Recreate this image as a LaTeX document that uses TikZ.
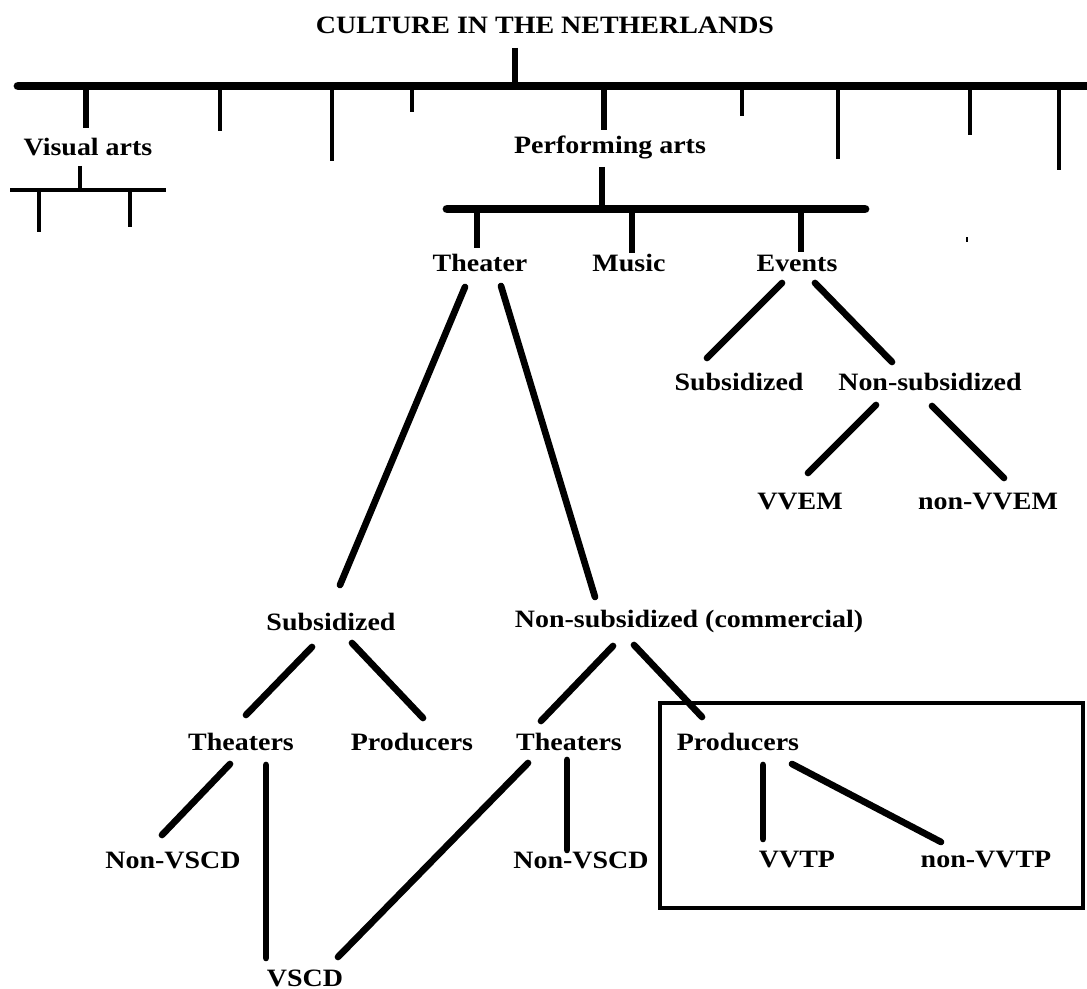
\documentclass[tikz,border=0pt]{standalone}
\usepackage{fontspec}
\setmainfont{Liberation Serif}[FakeStretch=1.12]
\begin{document}
\begin{tikzpicture}[x=0.01cm,y=-0.01cm,
  lbl/.style={font=\fontsize{7.1}{8}\selectfont\bfseries,inner sep=0pt},
  bar/.style={line width=2.5pt,line cap=round},
  thickline/.style={line width=1.9pt},
  thinline/.style={line width=1.05pt},
  edge/.style={line width=1.9pt,line cap=round},
  boxline/.style={line width=1.3pt}]
\useasboundingbox (0,0) rectangle (1087,989);
% labels
\node[lbl] (title) at (545,25) {CULTURE IN THE NETHERLANDS};
\node[lbl] (visual) at (88,147) {Visual arts};
\node[lbl] (perf) at (610,147) {Performing arts};
\node[lbl] (theater) at (480,263) {Theater};
\node[lbl] (music) at (629,263) {Music};
\node[lbl] (events) at (797,263) {Events};
\node[lbl] (esub) at (739,382) {Subsidized};
\node[lbl] (ensub) at (930,382) {Non-subsidized};
\node[lbl] (vvem) at (800,502) {VVEM};
\node[lbl] (nvvem) at (988,502) {non-VVEM};
\node[lbl] (tsub) at (331,622) {Subsidized};
\node[lbl] (tnsub) at (689,622) {Non-subsidized (commercial)};
\node[lbl] (stheaters) at (241,742) {Theaters};
\node[lbl] (sprod) at (412,742) {Producers};
\node[lbl] (ntheaters) at (569,742) {Theaters};
\node[lbl] (nprod) at (738,742) {Producers};
\node[lbl] (snvscd) at (173,860) {Non-VSCD};
\node[lbl] (nnvscd) at (581,860) {Non-VSCD};
\node[lbl] (vvtp) at (797,860) {VVTP};
\node[lbl] (nvvtp) at (986,860) {non-VVTP};
\node[lbl] (vscd) at (305,978) {VSCD};
% main bar
\draw[thickline] ([shift={(-30,23)}]title.center) -- (515,86);
\draw[bar] (18,86) -- (1092,86);
\foreach \x/\y in {220/131,332/161,412/112,742/116,838/159,970/135,1059/170}
  \draw[thinline] (\x,86) -- (\x,\y);
\draw[thickline] (86,86) -- ([shift={(-2,-19)}]visual.center);
\draw[thickline] (604,86) -- ([shift={(-6,-17)}]perf.center);
% visual arts
\draw[thinline] ([shift={(-8,19)}]visual.center) -- (80,190);
\draw[line width=1.3pt] (10,190) -- (166,190);
\foreach \x/\y in {39/232,130/227}
  \draw[thinline] (\x,190) -- (\x,\y);
% performing arts
\draw[thickline] ([shift={(-8,20)}]perf.center) -- (602,209);
\draw[bar] (447,209) -- (865,209);
\draw[thickline] (477,209) -- ([shift={(-3,-15)}]theater.center);
\draw[thickline] (632,209) -- ([shift={(3,-10)}]music.center);
\draw[thickline] (801,209) -- ([shift={(4,-11)}]events.center);
\fill (966,237) rectangle (968,242);
% branches
\foreach \a/\ax/\ay/\b/\bx/\by in {
  theater/-15/24/tsub/9/-37, theater/21/23/tnsub/-94/-25,
  events/-15/20/esub/-32/-24, events/18/20/ensub/-38/-20,
  ensub/-54/23/vvem/8/-29, ensub/2/24/nvvem/16/-24,
  tsub/-19/25/stheaters/5/-27, tsub/21/21/sprod/11/-24,
  tnsub/-76/24/ntheaters/-28/-21, tnsub/-55/23/nprod/-36/-25,
  stheaters/-11/22/snvscd/-11/-25, stheaters/25/23/vscd/-39/-20,
  ntheaters/-41/21/vscd/33/-21, ntheaters/-2/18/nnvscd/-14/-10,
  nprod/25/23/vvtp/-34/-21, nprod/54/22/nvvtp/-45/-18}
  \draw[edge] ([shift={(\ax,\ay)}]\a.center) -- ([shift={(\bx,\by)}]\b.center);
% commercial producers
\draw[boxline] (660,703) rectangle (1083,908);
\end{tikzpicture}
\end{document}
